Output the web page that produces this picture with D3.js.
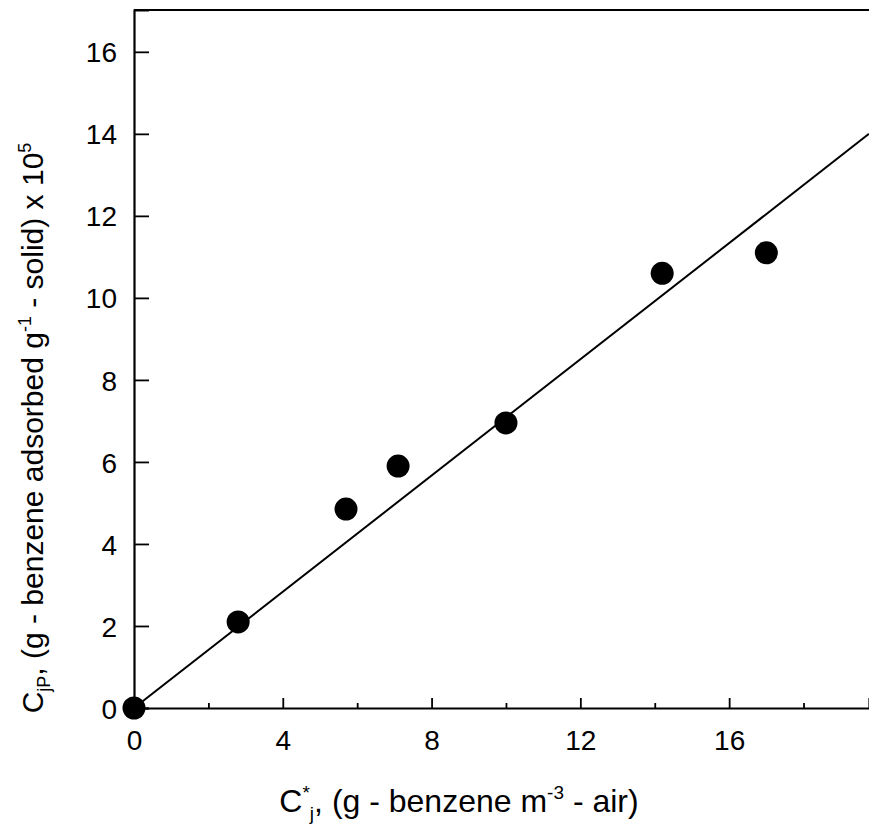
<!DOCTYPE html>
<html lang="en">
<head>
<meta charset="utf-8">
<title>Benzene adsorption isotherm</title>
<script src="https://d3js.org/d3.v7.min.js"></script>
<style type="text/css">
body {
	margin: 0;
	background: #fff;
}
text {
	font-family: "Liberation Sans", Arial, sans-serif;
	fill: #000;
}
</style>
</head>
<body>
<script type="text/javascript">

// measured points, C*j vs CjP (x 10^5)
const cAir = [0, 2.8, 5.7, 7.1, 10.0, 14.2, 17.0];
const cSolid = [0, 2.1, 4.85, 5.9, 6.95, 10.6, 11.1];

// fitted straight line, two end points
const fitX = [0, 19.76];
const fitY = [0, 14.0];

const xMajor = [0, 4, 8, 12, 16];
const xMinor = [2, 6, 10, 14, 18];
const yMajor = [0, 2, 4, 6, 8, 10, 12, 14, 16];

const width = 869;
const height = 828;
const padLeft = 134, padRight = 869, padTop = 10, padBottom = 708;

var x = d3.scaleLinear().domain([0, 19.76]).range([padLeft, padRight]);
var y = d3.scaleLinear().domain([0, 17.02]).range([padBottom, padTop]);

var svg = d3.select("body")
	.append("svg")
	.attr("width", width)
	.attr("height", height);

// frame: left axis, bottom axis, top line
svg.append("line")
	.attr("x1", padLeft).attr("x2", padRight).attr("y1", padTop).attr("y2", padTop)
	.attr("stroke", "#000").attr("stroke-width", 2.2);

var xAxis = svg.append("g")
	.attr("transform", `translate(0,${padBottom})`)
	.call(d3.axisBottom(x).tickValues(xMajor).tickSize(-10).tickPadding(22).tickFormat(d3.format("d")));

var xMinorAxis = svg.append("g")
	.attr("transform", `translate(0,${padBottom})`)
	.call(d3.axisBottom(x).tickValues(xMinor).tickSize(-5).tickFormat(""));
xMinorAxis.select(".domain").remove();

var yAxis = svg.append("g")
	.attr("transform", `translate(${padLeft},0)`)
	.call(d3.axisLeft(y).tickValues(yMajor).tickSize(-15).tickPadding(17).tickFormat(d3.format("d")));

svg.selectAll(".domain").attr("stroke-width", 2.2);
svg.selectAll(".tick line").attr("stroke-width", 1.8);
svg.selectAll(".tick text")
	.style("font-family", "'Liberation Sans', Arial, sans-serif")
	.style("font-size", "28px");
yAxis.selectAll(".tick text").attr("dy", "0.36em");

// fit line
svg.append("line")
	.attr("x1", x(fitX[0])).attr("y1", y(fitY[0]))
	.attr("x2", x(fitX[1])).attr("y2", y(fitY[1]))
	.attr("stroke", "#000")
	.attr("stroke-width", 2);

// data points
svg.append("g").selectAll("circle")
	.data(cAir)
	.enter()
	.append("circle")
	.attr("cx", function(d){ return x(d); })
	.attr("cy", function(d, i){ return y(cSolid[i]); })
	.attr("r", 11.5)
	.style("fill", "#000");

// x label
var xl = svg.append("text")
	.attr("x", 459)
	.attr("y", 812)
	.attr("text-anchor", "middle")
	.style("font-size", "32px");
xl.append("tspan").text("C");
xl.append("tspan").attr("dy", -13).style("font-size", "19px").text("*");
xl.append("tspan").attr("dy", 21).style("font-size", "19px").text("j");
xl.append("tspan").attr("dy", -8).text(", (g - benzene m");
xl.append("tspan").attr("dy", -13).style("font-size", "19px").text("-3");
xl.append("tspan").attr("dy", 13).text(" - air)");

// y label
var yl = svg.append("text")
	.attr("transform", "translate(43,428) rotate(-90)")
	.attr("text-anchor", "middle")
	.style("font-size", "30px");
yl.append("tspan").text("C");
yl.append("tspan").attr("dy", 7).style("font-size", "18px").text("jP");
yl.append("tspan").attr("dy", -7).text(", (g - benzene adsorbed g");
yl.append("tspan").attr("dy", -12).style("font-size", "18px").text("-1");
yl.append("tspan").attr("dy", 12).text(" - solid) x 10");
yl.append("tspan").attr("dy", -12).style("font-size", "18px").text("5");

</script>
</body>
</html>
